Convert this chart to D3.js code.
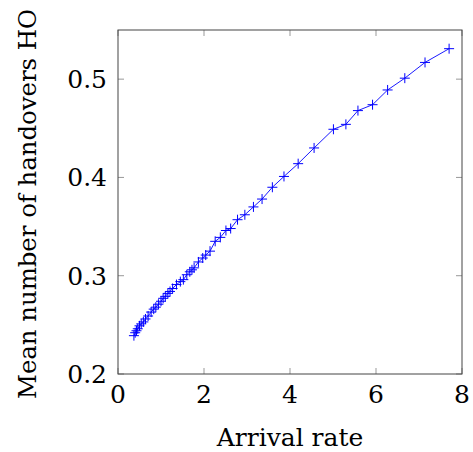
<!DOCTYPE html>
<html>
<head>
<meta charset="utf-8">
<script src="https://cdn.jsdelivr.net/npm/d3@7"></script>
<style>
  body { margin: 0; background: #fff; }
</style>
</head>
<body>
<div id="chart"></div>
<script>
// arrival rate vs mean number of handovers
const arrivalRate = [0.37, 0.40, 0.43, 0.46, 0.50, 0.54, 0.59, 0.64, 0.70, 0.77,
  0.83, 0.88, 0.94, 1.00, 1.05, 1.10, 1.16, 1.21, 1.27, 1.36,
  1.45, 1.52, 1.60, 1.67, 1.72, 1.77, 1.87, 1.97, 2.04, 2.14,
  2.26, 2.38, 2.51, 2.62, 2.78, 2.95, 3.15, 3.35, 3.59, 3.86,
  4.19, 4.56, 5.01, 5.30, 5.58, 5.92, 6.27, 6.67, 7.14, 7.70];
const meanHO = [0.239, 0.242, 0.244, 0.246, 0.249, 0.251, 0.253, 0.256, 0.259, 0.263,
  0.266, 0.268, 0.271, 0.274, 0.277, 0.279, 0.282, 0.284, 0.287, 0.291,
  0.294, 0.296, 0.301, 0.304, 0.306, 0.308, 0.314, 0.318, 0.321, 0.325,
  0.335, 0.339, 0.346, 0.348, 0.357, 0.362, 0.370, 0.378, 0.390, 0.401,
  0.414, 0.430, 0.449, 0.454, 0.468, 0.474, 0.489, 0.501, 0.517, 0.531];
const xTicks = [0, 2, 4, 6, 8];
const yTicks = [0.2, 0.3, 0.4, 0.5];

const W = 473, H = 452;
const mLeft = 118, mRight = 462, mTop = 30, mBottom = 374;
const fs = 25;

const svg = d3.select('#chart')
  .append('svg')
  .attr('width', W)
  .attr('height', H)
  .attr('font-family', "'DejaVu Serif', serif");

const x = d3.scaleLinear().domain([0, 8]).range([mLeft, mRight]);
const y = d3.scaleLinear().domain([0.2, 0.55]).range([mBottom, mTop]);

const pts = arrivalRate.map((v, i) => [v, meanHO[i]]);

// ticks, mirrored and pointing inward
const tickLen = 6;
const tickG = svg.append('g').attr('stroke', '#999').attr('stroke-width', 1);
xTicks.forEach((t) => {
  tickG.append('line').attr('x1', x(t)).attr('x2', x(t)).attr('y1', mBottom).attr('y2', mBottom - tickLen);
  tickG.append('line').attr('x1', x(t)).attr('x2', x(t)).attr('y1', mTop).attr('y2', mTop + tickLen);
});
yTicks.forEach((t) => {
  tickG.append('line').attr('y1', y(t)).attr('y2', y(t)).attr('x1', mLeft).attr('x2', mLeft + tickLen);
  tickG.append('line').attr('y1', y(t)).attr('y2', y(t)).attr('x1', mRight).attr('x2', mRight - tickLen);
});

// frame
svg.append('rect')
  .attr('x', mLeft).attr('y', mTop)
  .attr('width', mRight - mLeft).attr('height', mBottom - mTop)
  .attr('fill', 'none')
  .attr('stroke', '#444')
  .attr('stroke-width', 1);

// line
const line = d3.line().x((d) => x(d[0])).y((d) => y(d[1]));
svg.append('path')
  .datum(pts)
  .attr('d', line)
  .attr('fill', 'none')
  .attr('stroke', '#0000ff')
  .attr('stroke-width', 0.9);

// '+' markers
const m = 5;
svg.append('g')
  .attr('stroke', '#0000ff')
  .attr('stroke-width', 1)
  .selectAll('path.mark')
  .data(pts)
  .enter()
  .append('path')
  .attr('class', 'mark')
  .attr('d', (d) => {
    const px = x(d[0]), py = y(d[1]);
    return `M${px - m},${py}H${px + m}M${px},${py - m}V${py + m}`;
  });

// tick labels
svg.append('g')
  .selectAll('text')
  .data(xTicks)
  .enter()
  .append('text')
  .attr('x', (d) => x(d))
  .attr('y', 403)
  .attr('text-anchor', 'middle')
  .attr('font-size', fs)
  .text((d) => d);

svg.append('g')
  .selectAll('text')
  .data(yTicks)
  .enter()
  .append('text')
  .attr('x', 107)
  .attr('y', (d) => y(d))
  .attr('dy', '0.36em')
  .attr('text-anchor', 'end')
  .attr('font-size', fs)
  .text((d) => d3.format('.1f')(d));

// axis labels
svg.append('text')
  .attr('x', (mLeft + mRight) / 2)
  .attr('y', 446)
  .attr('text-anchor', 'middle')
  .attr('font-size', fs)
  .text('Arrival rate');

svg.append('text')
  .attr('transform', 'translate(36,204) rotate(-90)')
  .attr('text-anchor', 'middle')
  .attr('font-size', fs)
  .attr('textLength', 390)
  .attr('lengthAdjust', 'spacingAndGlyphs')
  .text('Mean number of handovers HO');
</script>
</body>
</html>
